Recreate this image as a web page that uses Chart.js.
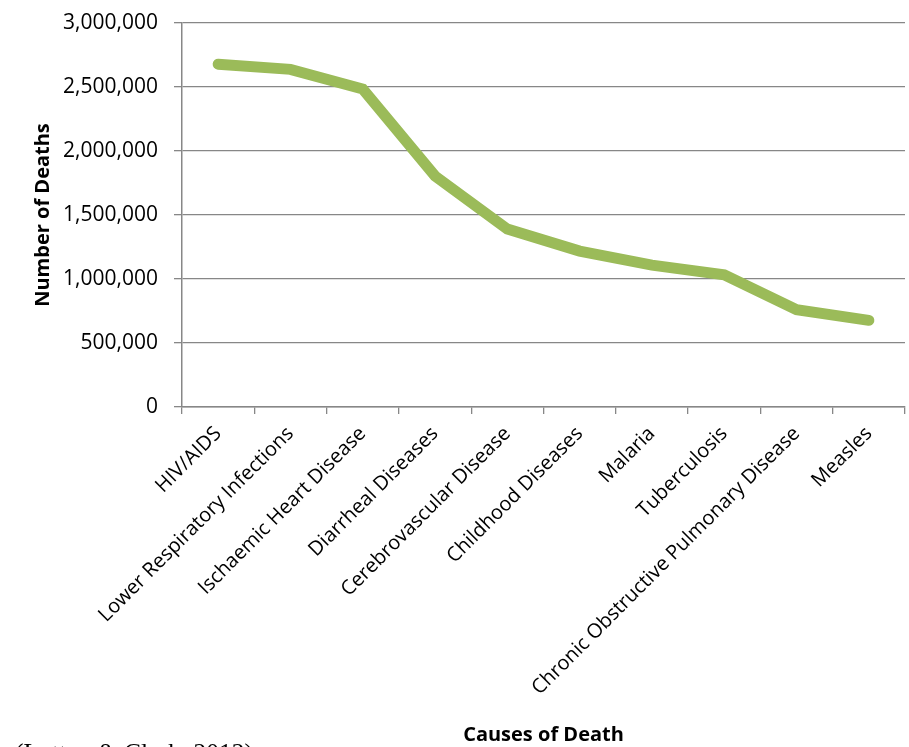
<!DOCTYPE html>
<html>
<head>
<meta charset="utf-8">
<script src="https://cdn.jsdelivr.net/npm/chart.js@4/dist/chart.umd.min.js"></script>
<style>
  html, body { margin: 0; padding: 0; background: #ffffff; overflow: hidden; }
  #wrap { position: relative; width: 909px; height: 747px; }
  #c { position: absolute; left: 0; top: 0; }
  #cite { position: absolute; left: 15px; top: 740px; font-family: "Liberation Serif", "Times New Roman", serif; font-size: 25.5px; line-height: 25px; color: #000; white-space: nowrap; }
</style>
</head>
<body>
<div id="wrap">
  <canvas id="c" width="909" height="747"></canvas>
  <div id="cite">(Lutton &amp; Clark, 2012)</div>
</div>
<script>
const categories = [
  "HIV/AIDS",
  "Lower Respiratory Infections",
  "Ischaemic Heart Disease",
  "Diarrheal Diseases",
  "Cerebrovascular Disease",
  "Childhood Diseases",
  "Malaria",
  "Tuberculosis",
  "Chronic Obstructive Pulmonary Disease",
  "Measles"
];
const deaths = [2678000, 2638000, 2484000, 1804000, 1390000, 1218000, 1108000, 1032000, 760000, 677000];
const yTicks = [0, 500000, 1000000, 1500000, 2000000, 2500000, 3000000];
const xTitle = "Causes of Death";
const yTitle = "Number of Deaths";

const gridColor = "#878787";
const tickFont = { family: "'Open Sans', sans-serif", size: 20 };

new Chart(document.getElementById("c"), {
  type: "line",
  data: {
    labels: categories,
    datasets: [{
      data: deaths,
      borderColor: "#9BBB59",
      backgroundColor: "#9BBB59",
      borderWidth: 11,
      borderCapStyle: "round",
      borderJoinStyle: "miter",
      pointRadius: 0,
      pointHoverRadius: 0,
      tension: 0,
      fill: false
    }]
  },
  options: {
    responsive: false,
    animation: false,
    events: [],
    layout: { padding: { top: 23, right: 4, left: 0, bottom: 0 } },
    plugins: { legend: { display: false }, tooltip: { enabled: false } },
    scales: {
      x: {
        type: "category",
        offset: true,
        grid: {
          offset: true,
          drawOnChartArea: false,
          drawTicks: true,
          tickLength: 7,
          color: gridColor,
          lineWidth: 1.3
        },
        border: { display: true, color: gridColor, width: 1.5 },
        ticks: {
          autoSkip: false,
          maxRotation: 45,
          minRotation: 45,
          padding: 8,
          color: "#000",
          font: tickFont
        },
        title: {
          display: true,
          text: xTitle,
          color: "#000",
          font: { family: "'Open Sans', sans-serif", size: 20, weight: "bold" },
          padding: { top: 0, bottom: 0 }
        },
        afterFit: (s) => { s.height = 340; }
      },
      y: {
        min: 0,
        max: 3000000,
        afterBuildTicks: (s) => { s.ticks = yTicks.map(v => ({ value: v })); },
        grid: {
          drawOnChartArea: true,
          drawTicks: true,
          tickLength: 8,
          color: gridColor,
          lineWidth: 1.3
        },
        border: { display: true, color: gridColor, width: 1.5 },
        ticks: {
          padding: 16,
          color: "#000",
          font: { family: "'Open Sans', sans-serif", size: 21 },
          callback: (v) => Number(v).toLocaleString("en-US")
        },
        title: {
          display: true,
          text: yTitle,
          color: "#000",
          font: { family: "'Open Sans', sans-serif", size: 20, weight: "bold" },
          padding: { top: 31, bottom: 0 }
        },
        afterFit: (s) => { s.width = 182; s.paddingTop = 0; s.paddingBottom = 0; }
      }
    }
  }
});
</script>
</body>
</html>
